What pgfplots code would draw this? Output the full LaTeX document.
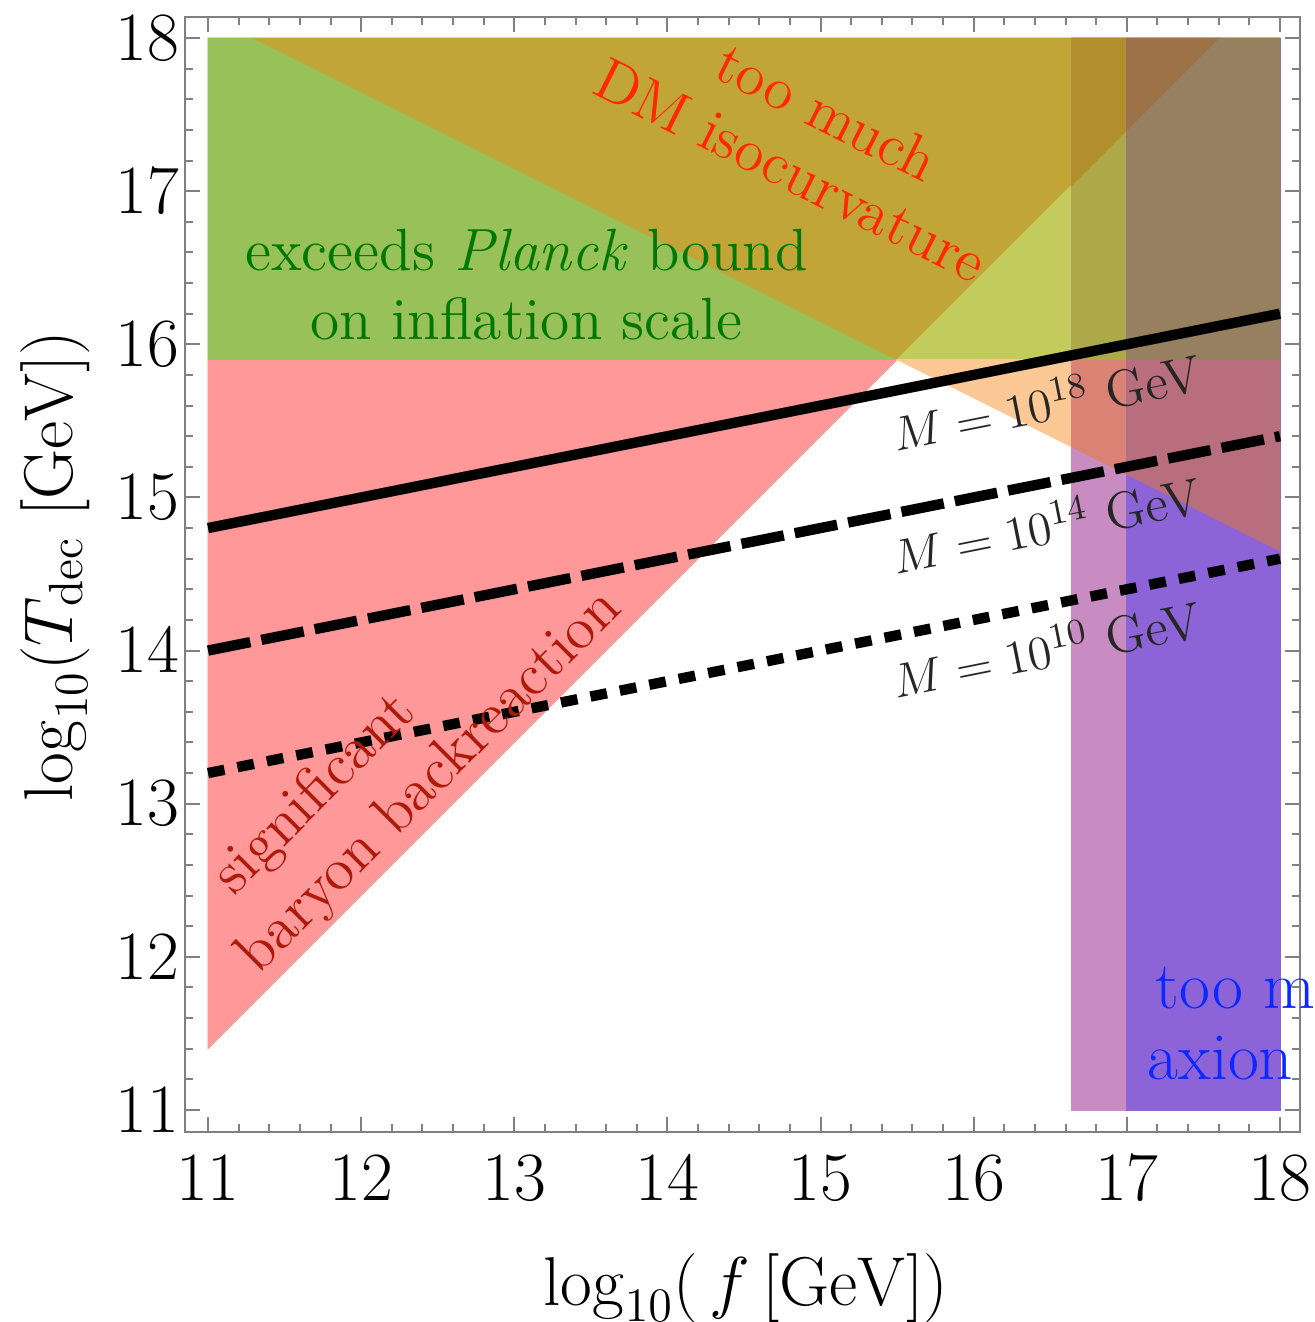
\documentclass[border=0pt]{standalone}
\usepackage{pgfplots}
\pgfplotsset{compat=1.18}
\definecolor{cR}{RGB}{255,153,153}
\definecolor{cG}{RGB}{152,193,90}
\definecolor{cOl}{RGB}{193,165,55}
\definecolor{cYG}{RGB}{195,203,93}
\definecolor{cOr}{RGB}{252,200,150}
\definecolor{cPa}{RGB}{200,140,195}
\definecolor{cPaO}{RGB}{218,130,115}
\definecolor{cPaYG}{RGB}{173,168,72}
\definecolor{cPaOl}{RGB}{178,142,45}
\definecolor{cPb}{RGB}{140,100,215}
\definecolor{cPbO}{RGB}{185,110,125}
\definecolor{cPbYG}{RGB}{150,128,96}
\definecolor{cPbOl}{RGB}{156,114,72}
\definecolor{tGreen}{RGB}{0,120,0}
\definecolor{tRed}{RGB}{255,40,0}
\definecolor{tDRed}{RGB}{175,25,10}
\definecolor{tBlue}{RGB}{10,40,255}
\begin{document}
\begin{tikzpicture}
\begin{axis}[
  scale only axis, width=278.75pt, height=278.75pt,
  xmin=10.8498, xmax=18.1306, ymin=10.8563, ymax=18.1371,
  xtick={11,12,13,14,15,16,17,18}, ytick={11,12,13,14,15,16,17,18},
  minor tick num=4,
  tick align=inside, major tick length=3.75pt, minor tick length=1.9pt,
  axis line style={gray, line width=0.5pt},
  tick style={gray, line width=0.5pt},
  ticklabel style={font=\fontsize{16}{19}\selectfont, black},
  xticklabel style={yshift=-2.5pt},
  yticklabel style={xshift=2pt},
  label style={font=\fontsize{16.5}{20}\selectfont},
  xlabel={$\log_{10}(\,f\,[\mathrm{GeV}])$},
  ylabel={$\log_{10}(T_{\mathrm{dec}}\ [\mathrm{GeV}])$},
  xlabel style={at={(axis description cs:0.503,-0.156)}, anchor=base},
  ylabel style={at={(axis description cs:-0.1013,0.5076)}, anchor=base},
  clip=false,
]
% base regions
\addplot[fill=cR, draw=cR, line width=0.2pt] coordinates {(11,11.4) (15.5,15.9) (11,15.9)} -- cycle;
\addplot[fill=cG, draw=cG, line width=0.2pt] coordinates {(11,15.9) (15.5,15.9) (11.3,18) (11,18)} -- cycle;
\addplot[fill=cOl, draw=cOl, line width=0.2pt] coordinates {(11.3,18) (15.5,15.9) (17.6,18)} -- cycle;
\addplot[fill=cYG, draw=cYG, line width=0.2pt] coordinates {(15.5,15.9) (18,15.9) (18,18) (17.6,18)} -- cycle;
\addplot[fill=cOr, draw=cOr, line width=0.2pt] coordinates {(15.5,15.9) (18,15.9) (18,14.65)} -- cycle;
% column 1
\addplot[fill=cPa, draw=cPa, line width=0.2pt] coordinates {(16.64,11) (17,11) (17,18) (16.64,18)} -- cycle;
\addplot[fill=cPaO, draw=cPaO, line width=0.2pt] coordinates {(16.64,15.33) (17,15.15) (17,15.9) (16.64,15.9)} -- cycle;
\addplot[fill=cPaYG, draw=cPaYG, line width=0.2pt] coordinates {(16.64,15.9) (17,15.9) (17,17.4) (16.64,17.04)} -- cycle;
\addplot[fill=cPaOl, draw=cPaOl, line width=0.2pt] coordinates {(16.64,17.04) (17,17.4) (17,18) (16.64,18)} -- cycle;
% column 2
\addplot[fill=cPb, draw=cPb, line width=0.2pt] coordinates {(17,11) (18,11) (18,18) (17,18)} -- cycle;
\addplot[fill=cPbO, draw=cPbO, line width=0.2pt] coordinates {(17,15.15) (18,14.65) (18,15.9) (17,15.9)} -- cycle;
\addplot[fill=cPbYG, draw=cPbYG, line width=0.2pt] coordinates {(17,15.9) (18,15.9) (18,18) (17.6,18) (17,17.4)} -- cycle;
\addplot[fill=cPbOl, draw=cPbOl, line width=0.2pt] coordinates {(17,17.4) (17.6,18) (17,18)} -- cycle;
% M lines
\addplot[black, line width=2.6pt] coordinates {(11,14.8) (18,16.2)};
\addplot[black, line width=2.6pt, dash pattern=on 10.8pt off 2.8pt] coordinates {(11,14.0) (18,15.4)};
\addplot[black, line width=2.6pt, dash pattern=on 4.2pt off 3.3pt] coordinates {(11,13.2) (18,14.6)};
% labels
\node[anchor=base, inner sep=0pt, rotate=11.31, text=black!85, font=\fontsize{13}{15}\selectfont] at (axis cs:16.50,15.50) {$M=10^{18}$ GeV};
\node[anchor=base, inner sep=0pt, rotate=11.31, text=black!85, font=\fontsize{13}{15}\selectfont] at (axis cs:16.50,14.70) {$M=10^{14}$ GeV};
\node[anchor=base, inner sep=0pt, rotate=11.31, text=black!85, font=\fontsize{13}{15}\selectfont] at (axis cs:16.50,13.89) {$M=10^{10}$ GeV};
\node[anchor=base, inner sep=0pt, text=tGreen, font=\fontsize{14.9}{17}\selectfont] at (axis cs:13.08,16.479) {exceeds \textit{Planck} bound};
\node[anchor=base, inner sep=0pt, text=tGreen, font=\fontsize{14.9}{17}\selectfont] at (axis cs:13.08,16.028) {on inflation scale};
\node[anchor=base, inner sep=0pt, rotate=-26.57, text=tRed, font=\fontsize{14.9}{17}\selectfont] at (axis cs:14.983,17.40) {too much};
\node[anchor=base, inner sep=0pt, rotate=-26.57, text=tRed, font=\fontsize{14.9}{17}\selectfont] at (axis cs:14.748,17.02) {DM isocurvature};
\node[anchor=base, inner sep=0pt, rotate=45, text=tDRed, font=\fontsize{14.9}{17}\selectfont] at (axis cs:11.77,12.99) {significant};
\node[anchor=base, inner sep=0pt, rotate=45, text=tDRed, font=\fontsize{14.9}{17}\selectfont] at (axis cs:12.52,13.07) {baryon backreaction};
\node[anchor=base west, inner sep=0pt, text=tBlue, font=\fontsize{16.8}{19}\selectfont] at (axis cs:17.184,11.666) {too much};
\node[anchor=base west, inner sep=0pt, text=tBlue, font=\fontsize{16.8}{19}\selectfont] at (axis cs:17.132,11.196) {axion};
\end{axis}
\pgfresetboundingbox
\path[use as bounding box] ([shift={(-46.25pt,-47.5pt)}]current axis.south west) rectangle ([shift={(3.75pt,4.25pt)}]current axis.north east);
\end{tikzpicture}
\end{document}
